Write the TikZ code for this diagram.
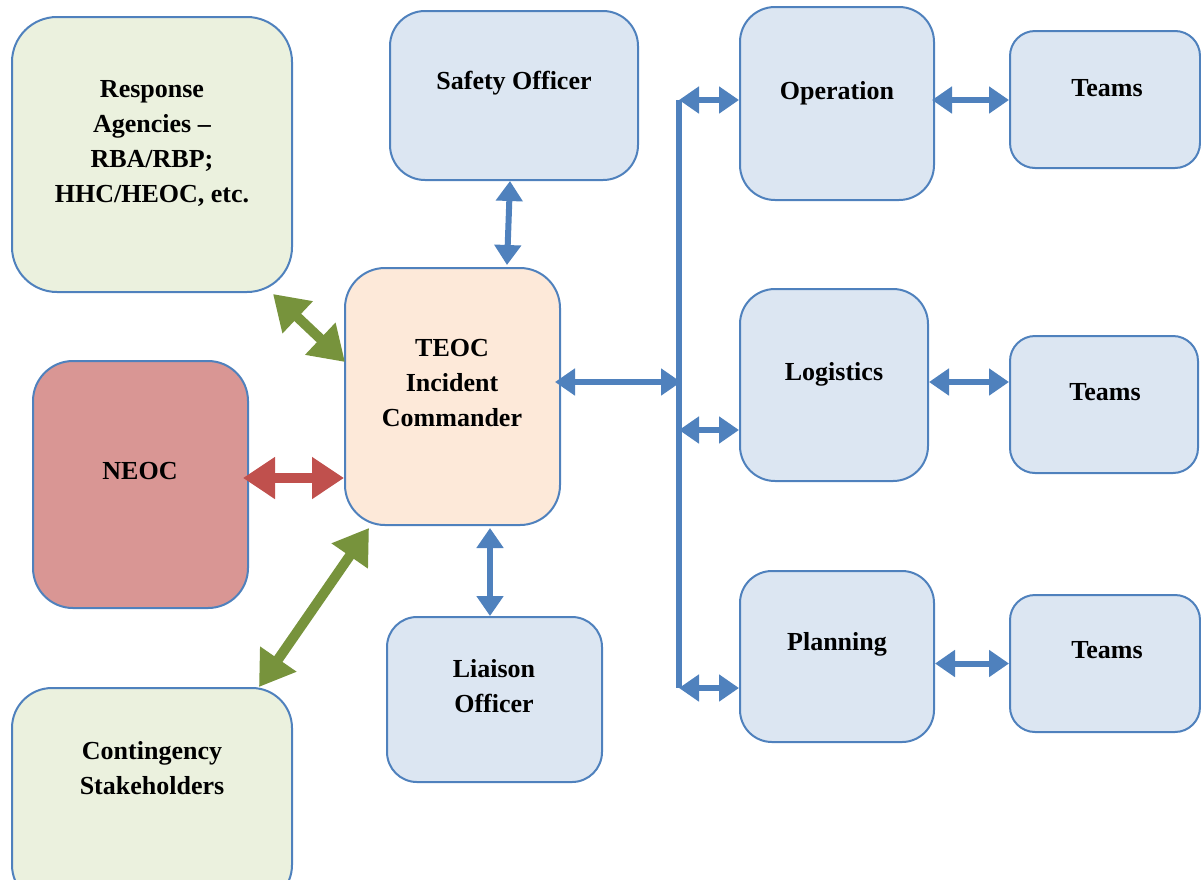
\documentclass[tikz,border=0pt]{standalone}
\usepackage{fontspec}
\setmainfont{Liberation Serif}
\usetikzlibrary{arrows.meta,calc}
\definecolor{bordblue}{HTML}{4F81BD}
\definecolor{fillblue}{HTML}{DCE6F2}
\definecolor{fillgreen}{HTML}{EBF1DE}
\definecolor{fillpeach}{HTML}{FDE9D9}
\definecolor{fillred}{HTML}{D99694}
\definecolor{arrgreen}{HTML}{77933C}
\definecolor{arrred}{HTML}{C0504D}
\tikzset{
  box/.style={draw=bordblue, line width=2pt, rectangle, inner sep=0pt},
  lbl/.style={font=\fontsize{26}{35}\selectfont\bfseries, align=center, inner sep=0pt, text=black},
  barrow/.style={draw=bordblue, line width=6pt, {Triangle[width=26pt,length=20pt]}-{Triangle[width=26pt,length=20pt]}},
  busline/.style={draw=bordblue, line width=6pt},
  garrow/.style={draw=arrgreen, line width=10pt, {Triangle[width=42pt,length=34pt]}-{Triangle[width=42pt,length=34pt]}},
  rarrow/.style={draw=arrred, line width=10pt, {Triangle[width=40pt,length=32pt]}-{Triangle[width=40pt,length=32pt]}}
}
\begin{document}
\begin{tikzpicture}[x=1pt, y=-1pt]
\useasboundingbox (0,0) rectangle (1201,879);
% boxes
\node[box, fill=fillgreen, rounded corners=45pt, minimum width=280pt, minimum height=275pt] (response) at (152,154.5) {};
\node[box, fill=fillblue, rounded corners=35pt, minimum width=248pt, minimum height=169pt] (safety) at (514,95.5) {};
\node[box, fill=fillblue, rounded corners=35pt, minimum width=194pt, minimum height=193pt] (operation) at (837,103.5) {};
\node[box, fill=fillblue, rounded corners=25pt, minimum width=190pt, minimum height=137pt] (teamsA) at (1105,99.5) {};
\node[box, fill=fillpeach, rounded corners=40pt, minimum width=215pt, minimum height=257pt] (teoc) at (452.5,396.5) {};
\node[box, fill=fillblue, rounded corners=35pt, minimum width=188pt, minimum height=192pt] (logistics) at (834,385) {};
\node[box, fill=fillblue, rounded corners=25pt, minimum width=188pt, minimum height=137pt] (teamsB) at (1104,404.5) {};
\node[box, fill=fillred, rounded corners=40pt, minimum width=215pt, minimum height=247pt] (neoc) at (140.5,484.5) {};
\node[box, fill=fillblue, rounded corners=32pt, minimum width=194pt, minimum height=171pt] (planning) at (837,656.5) {};
\node[box, fill=fillblue, rounded corners=25pt, minimum width=190pt, minimum height=137pt] (teamsC) at (1105,663.5) {};
\node[box, fill=fillblue, rounded corners=30pt, minimum width=215pt, minimum height=165pt] (liaison) at (494.5,699.5) {};
\node[box, fill=fillgreen, rounded corners=40pt, minimum width=280pt, minimum height=217pt] (contingency) at (152,796.5) {};
% labels
\node[lbl] (tresponse) at (152,143.5) {Response\\Agencies –\\RBA/RBP;\\HHC/HEOC, etc.};
\node[lbl] (tsafety) at (514,83) {Safety Officer};
\node[lbl] (toperation) at (837,93) {Operation};
\node[lbl] (tteamsA) at (1107,88) {Teams};
\node[lbl] (tteoc) at (452,383) {TEOC\\Incident\\Commander};
\node[lbl] (tneoc) at (140,471) {NEOC};
\node[lbl] (tlogistics) at (834,374) {Logistics};
\node[lbl] (tteamsB) at (1105,392) {Teams};
\node[lbl] (tplanning) at (837,644) {Planning};
\node[lbl] (tteamsC) at (1107,650) {Teams};
\node[lbl] (tliaison) at (494,686) {Liaison\\Officer};
\node[lbl] (tcontingency) at (152,768) {Contingency\\Stakeholders};
% bus
\coordinate (bustop) at (679,100);
\coordinate (busmid) at (679,430);
\coordinate (busbot) at (679,688);
\coordinate (busin) at (681,382);
\coordinate (logy) at (0,382);
\draw[busline] (bustop) -- (busbot);
% blue arrows
\draw[barrow] ($(safety.south)+(-4,0)$) -- ($(teoc.north)+(54.5,-2)$);
\draw[barrow] ($(teoc.south)+(37.5,2)$) -- ($(liaison.north)+(-4.5,0)$);
\draw[barrow] ($(teoc.east)+(-6,-14.5)$) -- (busin);
\draw[barrow] (bustop) -- (operation.west |- bustop);
\draw[barrow] (busmid) -- (logistics.west |- busmid);
\draw[barrow] (busbot) -- (planning.west |- busbot);
\draw[barrow] ($(operation.east |- bustop)+(-3,0)$) -- (teamsA.west |- bustop);
\draw[barrow] (logistics.east |- logy) -- (teamsB.west |- logy);
\draw[barrow] (planning.east |- teamsC) -- (teamsC.west);
% green and red arrows
\draw[garrow] ($(response.south east)+(-20,1)$) -- ($(teoc.west)+(1,-34.5)$);
\draw[rarrow] ($(neoc.east)+(-6,-6.5)$) -- ($(teoc.west)+(0,81.5)$);
\draw[garrow] ($(teoc.south west)+(25,2)$) -- ($(contingency.north east)+(-34,0)$);
\end{tikzpicture}
\end{document}
